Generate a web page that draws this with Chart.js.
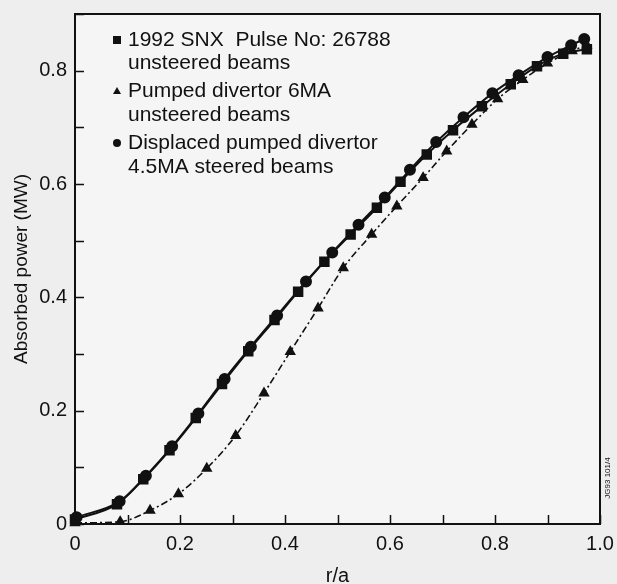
<!DOCTYPE html>
<html>
<head>
<meta charset="utf-8">
<script src="https://cdn.jsdelivr.net/npm/chart.js@4.4.1/dist/chart.umd.min.js"></script>
<style>
  html, body { margin: 0; padding: 0; background: #eeeeee; }
  #wrap { width: 617px; height: 584px; }
</style>
</head>
<body>
<div id="wrap"><canvas id="power-chart"></canvas></div>
<script>
// values (r/a vs absorbed power in MW)
const rSquares = [0, 0.08, 0.13, 0.18, 0.23, 0.28, 0.33, 0.38, 0.425, 0.475, 0.525, 0.575, 0.62, 0.67, 0.72, 0.775, 0.83, 0.88, 0.93, 0.975];
const pSquares = [0.008, 0.035, 0.079, 0.13, 0.187, 0.247, 0.305, 0.36, 0.41, 0.463, 0.511, 0.558, 0.604, 0.652, 0.695, 0.737, 0.776, 0.808, 0.83, 0.838];

const rTriangles = [0, 0.086, 0.143, 0.197, 0.251, 0.306, 0.36, 0.41, 0.463, 0.511, 0.565, 0.613, 0.663, 0.708, 0.756, 0.805, 0.853, 0.9, 0.947, 0.975];
const pTriangles = [0.002, 0.004, 0.024, 0.053, 0.098, 0.156, 0.231, 0.304, 0.381, 0.452, 0.511, 0.561, 0.611, 0.658, 0.705, 0.75, 0.784, 0.813, 0.835, 0.845];

const rCircles = [0.003, 0.085, 0.135, 0.185, 0.235, 0.285, 0.335, 0.385, 0.44, 0.49, 0.54, 0.59, 0.638, 0.688, 0.74, 0.795, 0.845, 0.9, 0.945, 0.97];
const pCircles = [0.012, 0.04, 0.085, 0.137, 0.195, 0.256, 0.313, 0.368, 0.428, 0.479, 0.528, 0.576, 0.625, 0.674, 0.718, 0.76, 0.792, 0.824, 0.845, 0.856];

const legendLabels = [
  ['1992 SNX  Pulse No: 26788', 'unsteered beams'],
  ['Pumped divertor 6MA', 'unsteered beams'],
  ['Displaced pumped divertor', '4.5MA steered beams']
];
const xTickLabels = ['0', '0.2', '0.4', '0.6', '0.8', '1.0'];
const yTickLabels = ['0', '0.2', '0.4', '0.6', '0.8'];

const FONT = '"Liberation Sans", Arial, sans-serif';
const INK = '#111111';

function pts(xs, ys) {
  return xs.map((x, i) => ({ x: x, y: ys[i] }));
}

// background, box, inward ticks, legend and figure code
const decor = {
  id: 'decor',
  beforeDraw(chart) {
    const { ctx, chartArea: a } = chart;
    ctx.save();
    ctx.fillStyle = '#eeeeee';
    ctx.fillRect(0, 0, chart.width, chart.height);
    ctx.fillStyle = '#f5f5f5';
    ctx.fillRect(a.left, a.top, a.right - a.left, a.bottom - a.top);
    ctx.restore();
  },
  afterDraw(chart) {
    const { ctx, chartArea: a, scales } = chart;
    ctx.save();
    ctx.strokeStyle = INK;
    ctx.lineWidth = 2;
    ctx.strokeRect(a.left, a.top, a.right - a.left, a.bottom - a.top);

    ctx.lineWidth = 1.5;
    ctx.beginPath();
    scales.x.ticks.forEach(t => {
      const px = Math.round(scales.x.getPixelForValue(t.value)) + 0.5;
      ctx.moveTo(px, a.bottom);
      ctx.lineTo(px, a.bottom - 9);
    });
    scales.y.ticks.forEach(t => {
      const py = Math.round(scales.y.getPixelForValue(t.value)) + 0.5;
      ctx.moveTo(a.left, py);
      ctx.lineTo(a.left + 9, py);
    });
    ctx.stroke();

    // legend
    ctx.fillStyle = INK;
    ctx.font = '21px ' + FONT;
    ctx.textBaseline = 'middle';
    const lineY = [[40, 63], [91, 115], [143, 167]];
    const mx = 117, tx = 128;
    legendLabels.forEach((lines, i) => {
      lines.forEach((txt, j) => ctx.fillText(txt, tx, lineY[i][j]));
      const my = lineY[i][0];
      ctx.beginPath();
      if (i === 0) {
        ctx.rect(mx - 4, my - 4, 8, 8);
      } else if (i === 1) {
        ctx.moveTo(mx, my - 4);
        ctx.lineTo(mx + 4, my + 3);
        ctx.lineTo(mx - 4, my + 3);
        ctx.closePath();
      } else {
        ctx.arc(mx, my, 4, 0, Math.PI * 2);
      }
      ctx.fill();
    });

    // figure code on the right
    ctx.font = '8px ' + FONT;
    ctx.translate(608, 478);
    ctx.rotate(-Math.PI / 2);
    ctx.textAlign = 'center';
    ctx.fillText('JG93 101/4', 0, 0);
    ctx.restore();
  }
};

const common = {
  borderColor: INK,
  backgroundColor: INK,
  pointBorderColor: INK,
  pointBackgroundColor: INK,
  cubicInterpolationMode: 'monotone',
  clip: false
};

const data = {
  datasets: [
    Object.assign({}, common, {
      label: '1992 SNX Pulse No: 26788',
      data: pts(rSquares, pSquares),
      borderWidth: 2,
      pointStyle: 'rect',
      pointRadius: 6
    }),
    Object.assign({}, common, {
      label: 'Pumped divertor 6MA',
      data: pts(rTriangles, pTriangles),
      borderWidth: 1.6,
      borderDash: [7, 3, 2, 3],
      pointStyle: 'triangle',
      pointRadius: 5
    }),
    Object.assign({}, common, {
      label: 'Displaced pumped divertor',
      data: pts(rCircles, pCircles),
      borderWidth: 2,
      pointStyle: 'circle',
      pointRadius: 5
    })
  ]
};

const options = {
  responsive: false,
  animation: false,
  layout: { padding: { top: 14, right: 17, left: 0, bottom: 0 } },
  plugins: {
    legend: { display: false },
    tooltip: { enabled: false }
  },
  scales: {
    x: {
      type: 'linear',
      min: 0,
      max: 1,
      afterFit: s => { s.height = 60; s.paddingLeft = 0; s.paddingRight = 0; },
      grid: { display: false, drawTicks: false },
      border: { display: false },
      ticks: {
        stepSize: 0.1,
        padding: 8,
        color: INK,
        font: { family: FONT, size: 20 },
        maxRotation: 0,
        autoSkip: false,
        callback: v => {
          const k = Math.round(v * 10);
          return k % 2 === 0 ? xTickLabels[k / 2] : '';
        }
      },
      title: {
        display: true,
        text: 'r/a',
        color: INK,
        font: { family: FONT, size: 20, lineHeight: 1 },
        padding: { top: 0, bottom: -2 }
      }
    },
    y: {
      min: 0,
      max: 0.9,
      afterFit: s => { s.width = 75; s.paddingTop = 0; s.paddingBottom = 0; },
      grid: { display: false, drawTicks: false },
      border: { display: false },
      ticks: {
        stepSize: 0.1,
        padding: 8,
        color: INK,
        font: { family: FONT, size: 20 },
        autoSkip: false,
        callback: v => {
          const k = Math.round(v * 10);
          return (k % 2 === 0 && k <= 8) ? yTickLabels[k / 2] : '';
        }
      },
      title: {
        display: true,
        text: 'Absorbed power (MW)',
        color: INK,
        font: { family: FONT, size: 19, lineHeight: 1 },
        padding: { top: 12, bottom: 0 }
      }
    }
  }
};

const canvas = document.getElementById('power-chart');
canvas.width = 617;
canvas.height = 584;
const powerChart = new Chart(canvas.getContext('2d'), {
  type: 'line',
  data: data,
  options: options,
  plugins: [decor]
});
</script>
</body>
</html>
